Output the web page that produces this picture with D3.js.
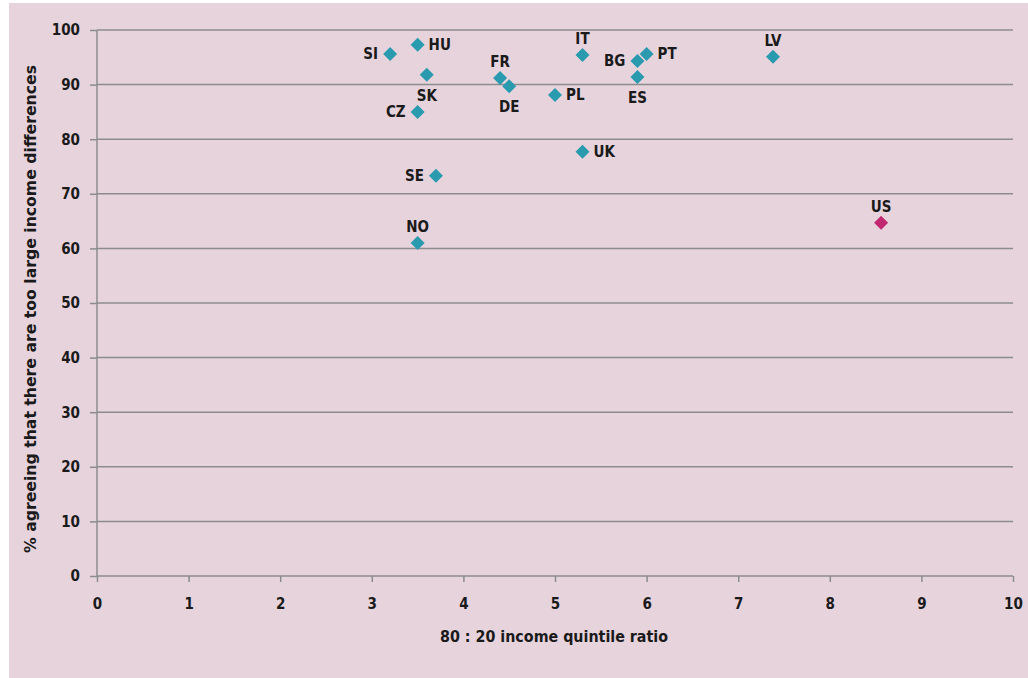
<!DOCTYPE html>
<html>
<head>
<meta charset="utf-8">
<script src="https://cdn.jsdelivr.net/npm/d3@7"></script>
<style>
  body { margin: 0; background: #fff; }
  svg text { font-family: "Liberation Sans Narrow", "DejaVu Sans Condensed", "Open Sans", sans-serif; font-weight: bold; fill: #1a1a1a; }
</style>
</head>
<body>
<div id="chart"></div>
<script>
const countries = ['SI', 'HU', 'SK', 'CZ', 'SE', 'NO', 'FR', 'DE', 'PL', 'IT', 'UK', 'BG', 'PT', 'ES', 'LV', 'US'];
const ratios = [3.2, 3.5, 3.6, 3.5, 3.7, 3.5, 4.4, 4.5, 5.0, 5.3, 5.3, 5.9, 6.0, 5.9, 7.38, 8.56];
const agreeing = [95.6, 97.3, 91.8, 85.0, 73.3, 61.0, 91.2, 89.7, 88.1, 95.4, 77.7, 94.3, 95.6, 91.4, 95.1, 64.7];
const labelSide = ['left', 'right', 'below', 'left', 'left', 'above', 'above', 'below', 'right', 'above', 'right', 'left', 'right', 'below', 'above', 'above'];
const xTicks = [0, 1, 2, 3, 4, 5, 6, 7, 8, 9, 10];
const yTicks = [0, 10, 20, 30, 40, 50, 60, 70, 80, 90, 100];

drawScatter();

function drawScatter() {
  const width = 1028;
  const height = 678;
  const margin = {left: 97, right: 15, top: 30, bottom: 102};

  const svg = d3.select('#chart').append('svg')
      .attr('width', width)
      .attr('height', height);

  // pink panel
  svg.append('rect')
      .attr('x', 9)
      .attr('y', 3)
      .attr('width', width - 9)
      .attr('height', height - 3)
      .attr('fill', '#e6d3dc');

  const x = d3.scaleLinear().domain([0, 10]).range([margin.left, width - margin.right]);
  const y = d3.scaleLinear().domain([0, 100]).range([height - margin.bottom, margin.top]);

  // gridlines
  svg.append('g')
      .selectAll('line')
      .data(yTicks.filter(d => d > 0))
      .enter()
      .append('line')
      .attr('x1', x(0))
      .attr('x2', x(10))
      .attr('y1', d => y(d))
      .attr('y2', d => y(d))
      .attr('stroke', '#8c8c8c')
      .attr('stroke-width', 1.5);

  const yAxis = svg.append('g')
      .attr('transform', `translate(${x(0)},0)`)
      .call(d3.axisLeft(y).tickValues(yTicks).tickSize(7).tickPadding(10));

  const xAxis = svg.append('g')
      .attr('transform', `translate(0,${y(0)})`)
      .call(d3.axisBottom(x).tickValues(xTicks).tickSize(6).tickPadding(16));

  [yAxis, xAxis].forEach(ax => {
    ax.select('.domain').attr('stroke', '#8c8c8c').attr('stroke-width', 1.5);
    ax.selectAll('.tick line').attr('stroke', '#8c8c8c').attr('stroke-width', 1.5);
    ax.selectAll('.tick text').style('font-size', '15px').attr('fill', '#1a1a1a');
  });
  yAxis.select('.domain').attr('d', `M0,${y(100)}V${y(0)}`);
  xAxis.select('.domain').attr('d', `M${x(0)},0H${x(10)}`);

  // axis titles
  svg.append('text')
      .text('80 : 20 income quintile ratio')
      .attr('x', 554)
      .attr('y', 642)
      .attr('textLength', 228)
      .attr('lengthAdjust', 'spacingAndGlyphs')
      .style('text-anchor', 'middle')
      .style('font-size', '16px');

  svg.append('text')
      .text('% agreeing that there are too large income differences')
      .attr('transform', `translate(36,309) rotate(-90)`)
      .attr('textLength', 488)
      .attr('lengthAdjust', 'spacingAndGlyphs')
      .style('text-anchor', 'middle')
      .style('font-size', '16px');

  // points
  const points = countries.map((c, i) => ({name: c, rx: ratios[i], ry: agreeing[i], side: labelSide[i]}));
  const diamond = d3.symbol().type(d3.symbolSquare).size(98);

  svg.append('g')
      .selectAll('path')
      .data(points)
      .enter()
      .append('path')
      .attr('d', diamond)
      .attr('transform', d => `translate(${x(d.rx)},${y(d.ry)}) rotate(45)`)
      .attr('fill', d => d.name === 'US' ? '#c2286f' : '#2a9aaf');

  const offsets = {
    left: {dx: -12, dy: 5, anchor: 'end'},
    right: {dx: 11, dy: 5, anchor: 'start'},
    above: {dx: 0, dy: -11, anchor: 'middle'},
    below: {dx: 0, dy: 26, anchor: 'middle'}
  };

  svg.append('g')
      .selectAll('text')
      .data(points)
      .enter()
      .append('text')
      .text(d => d.name)
      .attr('x', d => x(d.rx) + offsets[d.side].dx)
      .attr('y', d => y(d.ry) + offsets[d.side].dy)
      .style('text-anchor', d => offsets[d.side].anchor)
      .style('font-size', '15px');
}
</script>
</body>
</html>
